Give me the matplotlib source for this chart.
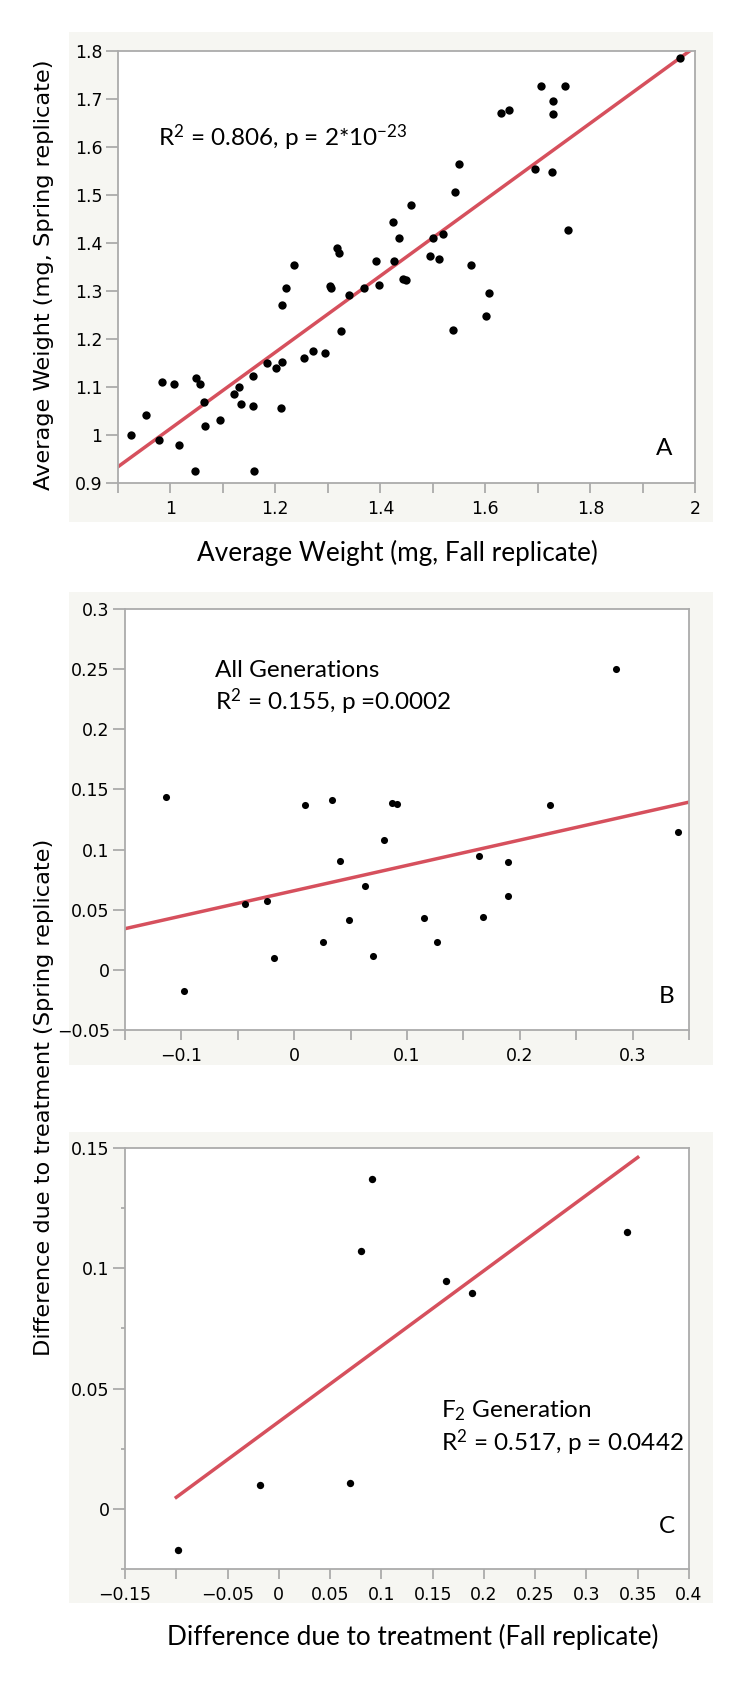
import matplotlib
matplotlib.use("Agg")
import matplotlib.pyplot as plt
from matplotlib.patches import Rectangle
from matplotlib.ticker import FixedLocator, FixedFormatter
import numpy as np

# ---------------- data ----------------
# Panel A: average weight, fall vs spring replicate
a_fall = [1.970, 1.705, 1.751, 1.728, 1.728, 1.629, 1.644, 1.694, 1.726, 1.549,
          1.543, 1.458, 1.757, 1.425, 1.436, 1.500, 1.520, 1.318, 1.321, 1.494,
          1.511, 1.392, 1.426, 1.235, 1.573, 1.443, 1.448, 1.220, 1.304, 1.307,
          1.340, 1.368, 1.398, 1.607, 1.602, 1.539, 1.326, 1.212, 1.271, 1.295,
          1.255, 1.213, 1.184, 1.201, 1.158, 0.985, 1.007, 1.049, 1.057, 1.131,
          1.121, 1.065, 1.135, 1.158, 1.211, 0.953, 1.095, 1.066, 0.926, 0.978,
          1.017, 1.047, 1.160]
a_spring = [1.786, 1.727, 1.727, 1.695, 1.669, 1.671, 1.677, 1.554, 1.547, 1.564,
            1.506, 1.479, 1.428, 1.443, 1.410, 1.410, 1.418, 1.390, 1.380, 1.372,
            1.366, 1.363, 1.363, 1.354, 1.354, 1.325, 1.322, 1.306, 1.311, 1.307,
            1.292, 1.306, 1.312, 1.296, 1.248, 1.218, 1.216, 1.270, 1.175, 1.170,
            1.161, 1.152, 1.150, 1.139, 1.123, 1.111, 1.107, 1.119, 1.107, 1.100,
            1.086, 1.069, 1.064, 1.061, 1.057, 1.042, 1.032, 1.018, 0.999, 0.990,
            0.979, 0.925, 0.926]
a_fit = (0.796, 0.217)          # slope, intercept

# Panel B: difference due to treatment, all generations
b_fall = [-0.1133, -0.0981, 0.0097, 0.0337, 0.0867, 0.0910, 0.2265, 0.3400,
          0.0800, 0.0404, 0.1638, 0.1895, 0.0632, -0.0434, -0.0244, 0.1899,
          0.0484, 0.1154, 0.1676, 0.0257, 0.1267, -0.0177, 0.0699, 0.2855]
b_spring = [0.1436, -0.0172, 0.1370, 0.1408, 0.1390, 0.1375, 0.1370, 0.1150,
            0.1080, 0.0908, 0.0950, 0.0900, 0.0697, 0.0544, 0.0575, 0.0611,
            0.0411, 0.0433, 0.0442, 0.0228, 0.0228, 0.0100, 0.0114, 0.2500]
b_fit = (0.2104, 0.0658)

# Panel C: difference due to treatment, F2 generation
c_fall = [0.0905, 0.0798, 0.1628, 0.1887, 0.3398, -0.0986, -0.0184, 0.0692]
c_spring = [0.1372, 0.1073, 0.0949, 0.0899, 0.1149, -0.0173, 0.0098, 0.0109]
c_fit = (0.314, 0.0362)
c_fit_range = (-0.1, 0.35)

# ---------------- style ----------------
plt.rcParams['mathtext.fontset'] = 'custom'
plt.rcParams['mathtext.rm'] = 'Lato'
plt.rcParams['mathtext.it'] = 'Lato:italic'
plt.rcParams['mathtext.bf'] = 'Lato:bold'

W, H = 740, 1684
fig = plt.figure(figsize=(W / 100, H / 100), dpi=100)
fig.patch.set_facecolor('white')

LINE = '#d6505d'
SPINE = '#ababab'
BG = '#f6f6f2'
TICKFAM = 'DejaVu Sans'
TICKSIZE = 12.5
ANN = dict(family='Lato', size=17.5)
XLAB = dict(family='Lato', size=18.8)
YLAB = dict(family='DejaVu Sans', size=16.2)


def px_rect(x0, y0, x1, y1):
    return [x0 / W, 1 - y1 / H, (x1 - x0) / W, (y1 - y0) / H]


def bg(x0, y0, x1, y1):
    r = Rectangle((x0 / W, 1 - y1 / H), (x1 - x0) / W, (y1 - y0) / H,
                  transform=fig.transFigure, facecolor=BG, edgecolor='none', zorder=-10)
    fig.add_artist(r)


def style_ax(ax):
    ax.set_facecolor('white')
    ax.set_zorder(5)
    for s in ax.spines.values():
        s.set_color(SPINE)
        s.set_linewidth(1.3)
    ax.tick_params(axis='both', which='both', color=SPINE, width=1.3,
                   labelcolor='black', labelsize=TICKSIZE)
    ax.tick_params(axis='x', which='major', length=7, pad=5)
    ax.tick_params(axis='x', which='minor', length=7)
    ax.tick_params(axis='y', which='major', length=9, pad=2)
    ax.tick_params(axis='y', which='minor', length=3)
    for lab in ax.get_xticklabels() + ax.get_yticklabels():
        lab.set_family(TICKFAM)


def fmt(v):
    s = ('%.3f' % v).rstrip('0').rstrip('.')
    if s in ('-0', ''):
        s = '0'
    return s.replace('-', '\u2212')


# ---------------- Panel A ----------------
bg(69, 32, 713, 522)
axA = fig.add_axes(px_rect(117.7, 51, 695.5, 483))
axA.scatter(a_fall, a_spring, s=36, color='black', zorder=3, linewidths=0)
xx = np.array([0.9, 2.0])
axA.plot(xx, a_fit[0] * xx + a_fit[1], color=LINE, lw=2.5, zorder=2)
axA.set_xlim(0.9, 2.0)
axA.set_ylim(0.9, 1.8)
xt = [0.9, 1.0, 1.1, 1.2, 1.3, 1.4, 1.5, 1.6, 1.7, 1.8, 1.9, 2.0]
xl = ['', '1', '', '1.2', '', '1.4', '', '1.6', '', '1.8', '', '2']
axA.xaxis.set_major_locator(FixedLocator(xt))
axA.xaxis.set_major_formatter(FixedFormatter(xl))
yt = [0.9, 1.0, 1.1, 1.2, 1.3, 1.4, 1.5, 1.6, 1.7, 1.8]
axA.yaxis.set_major_locator(FixedLocator(yt))
axA.yaxis.set_major_formatter(FixedFormatter([fmt(v) for v in yt]))
style_ax(axA)
axA.text(0.07, 0.80, r'R$^2$ = 0.806, p = 2*10$^{-23}$', transform=axA.transAxes,
         ha='left', va='center', **ANN)
axA.text(0.945, 0.08, 'A', transform=axA.transAxes, ha='center', va='center', **ANN)
fig.text(44 / W, 1 - 275 / H, 'Average Weight (mg, Spring replicate)', rotation=90,
         ha='center', va='center', **YLAB)
fig.text(397 / W, 1 - 553 / H, 'Average Weight (mg, Fall replicate)',
         ha='center', va='center', **XLAB)

# ---------------- Panel B ----------------
bg(69, 592, 713, 1065)
axB = fig.add_axes(px_rect(125, 609, 689, 1030))
axB.scatter(b_fall, b_spring, s=26, color='black', zorder=3, linewidths=0)
xx = np.array([-0.15, 0.35])
axB.plot(xx, b_fit[0] * xx + b_fit[1], color=LINE, lw=2.5, zorder=2)
axB.set_xlim(-0.15, 0.35)
axB.set_ylim(-0.05, 0.3)
xt = [-0.15, -0.1, -0.05, 0.0, 0.05, 0.1, 0.15, 0.2, 0.25, 0.3, 0.35]
xl = ['', fmt(-0.1), '', '0', '', '0.1', '', '0.2', '', '0.3', '']
axB.xaxis.set_major_locator(FixedLocator(xt))
axB.xaxis.set_major_formatter(FixedFormatter(xl))
yt = [-0.05, 0.0, 0.05, 0.1, 0.15, 0.2, 0.25, 0.3]
axB.yaxis.set_major_locator(FixedLocator(yt))
axB.yaxis.set_major_formatter(FixedFormatter([fmt(v) for v in yt]))
style_ax(axB)
axB.text(0.16, 0.855, 'All Generations', transform=axB.transAxes,
         ha='left', va='center', **ANN)
axB.text(0.16, 0.78, r'R$^2$ = 0.155, p =0.0002', transform=axB.transAxes,
         ha='left', va='center', **ANN)
axB.text(0.96, 0.08, 'B', transform=axB.transAxes, ha='center', va='center', **ANN)

# ---------------- Panel C ----------------
bg(69, 1132, 713, 1603)
axC = fig.add_axes(px_rect(125, 1148, 689, 1569))
axC.scatter(c_fall, c_spring, s=28, color='black', zorder=3, linewidths=0)
xx = np.array(c_fit_range)
axC.plot(xx, c_fit[0] * xx + c_fit[1], color=LINE, lw=2.5, zorder=2)
axC.set_xlim(-0.15, 0.4)
axC.set_ylim(-0.025, 0.15)
xt = [-0.15, -0.1, -0.05, 0.0, 0.05, 0.1, 0.15, 0.2, 0.25, 0.3, 0.35, 0.4]
xl = [fmt(v) for v in xt]
xl[1] = ''
axC.xaxis.set_major_locator(FixedLocator(xt))
axC.xaxis.set_major_formatter(FixedFormatter(xl))
yt = [0.0, 0.05, 0.1, 0.15]
axC.yaxis.set_major_locator(FixedLocator(yt))
axC.yaxis.set_major_formatter(FixedFormatter([fmt(v) for v in yt]))
axC.yaxis.set_minor_locator(FixedLocator([-0.025, 0.025, 0.075, 0.125]))
style_ax(axC)
axC.text(0.56, 0.375, r'F$_2$ Generation', transform=axC.transAxes,
         ha='left', va='center', **ANN)
axC.text(0.56, 0.30, r'R$^2$ = 0.517, p = 0.0442', transform=axC.transAxes,
         ha='left', va='center', **ANN)
axC.text(0.96, 0.10, 'C', transform=axC.transAxes, ha='center', va='center', **ANN)

fig.text(44 / W, 1 - 1097 / H, 'Difference due to treatment (Spring replicate)',
         rotation=90, ha='center', va='center', **YLAB)
fig.text(413 / W, 1 - 1637 / H, 'Difference due to treatment (Fall replicate)',
         ha='center', va='center', **XLAB)

fig.savefig('out.png', dpi=100, facecolor='white')
